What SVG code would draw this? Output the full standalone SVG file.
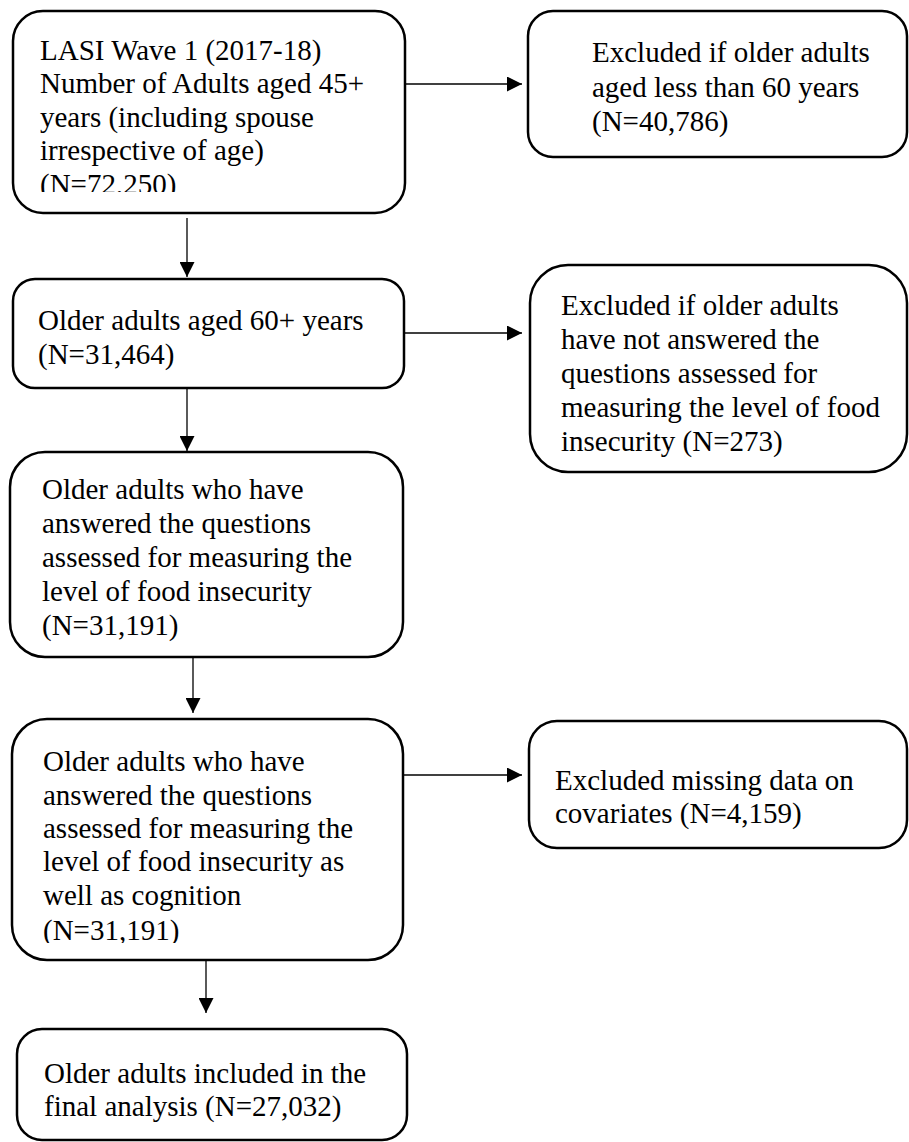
<svg xmlns="http://www.w3.org/2000/svg" width="909" height="1142" viewBox="0 0 909 1142">
<style>
.box{fill:#fff;stroke:#000;stroke-width:2.5}
.t{font-family:"Liberation Serif","Times New Roman",serif;font-size:29px;fill:#000}
.c{stroke:#000;stroke-width:1.3;fill:none}
</style>
<defs>
<marker id="ah" viewBox="0 0 15 15" refX="15" refY="7.5" markerWidth="15" markerHeight="15" markerUnits="userSpaceOnUse" orient="auto">
<path d="M0,0 L15,7.5 L0,15 Z" fill="#000"/>
</marker>
<clipPath id="clip1"><rect x="13" y="11" width="392" height="181"/></clipPath>
<clipPath id="clip6"><rect x="12" y="719" width="391" height="224"/></clipPath>
</defs>
<rect width="909" height="1142" fill="#fff"/>
<g id="connectors">
<line class="c" x1="405" y1="84" x2="522" y2="84" marker-end="url(#ah)"/>
<line class="c" x1="187" y1="218" x2="187" y2="277" marker-end="url(#ah)"/>
<line class="c" x1="404" y1="333" x2="522" y2="333" marker-end="url(#ah)"/>
<line class="c" x1="187" y1="388" x2="187" y2="451" marker-end="url(#ah)"/>
<line class="c" x1="193" y1="657" x2="193" y2="713" marker-end="url(#ah)"/>
<line class="c" x1="403" y1="775" x2="522" y2="775" marker-end="url(#ah)"/>
<line class="c" x1="206" y1="955" x2="206" y2="1013" marker-end="url(#ah)"/>
</g>
<g id="node1">
<rect class="box" x="13" y="11" width="392" height="202" rx="30"/>
<g clip-path="url(#clip1)">
<text class="t" x="40" y="59.5">LASI Wave 1 (2017-18)</text>
<text class="t" x="40" y="93">Number of Adults aged 45+</text>
<text class="t" x="40" y="126.5">years (including spouse</text>
<text class="t" x="40" y="160">irrespective of age)</text>
<text class="t" x="40" y="193.5">(N=72,250)</text>
</g>
</g>
<g id="node2">
<rect class="box" x="528" y="11" width="379" height="146" rx="25"/>
<text class="t" x="592" y="62">Excluded if older adults</text>
<text class="t" x="592" y="97">aged less than 60 years</text>
<text class="t" x="592" y="131">(N=40,786)</text>
</g>
<g id="node3">
<rect class="box" x="13" y="279" width="391" height="109" rx="22"/>
<text class="t" x="38" y="330">Older adults aged 60+ years</text>
<text class="t" x="38" y="364">(N=31,464)</text>
</g>
<g id="node4">
<rect class="box" x="530" y="265" width="377" height="207" rx="38"/>
<text class="t" x="561" y="315">Excluded if older adults</text>
<text class="t" x="561" y="349">have not answered the</text>
<text class="t" x="561" y="383">questions assessed for</text>
<text class="t" x="561" y="417">measuring the level of food</text>
<text class="t" x="561" y="451">insecurity (N=273)</text>
</g>
<g id="node5">
<rect class="box" x="10" y="452" width="393" height="205" rx="35"/>
<text class="t" x="42" y="499">Older adults who have</text>
<text class="t" x="42" y="533">answered the questions</text>
<text class="t" x="42" y="567">assessed for measuring the</text>
<text class="t" x="42" y="601">level of food insecurity</text>
<text class="t" x="42" y="635">(N=31,191)</text>
</g>
<g id="node6">
<rect class="box" x="12" y="719" width="391" height="241" rx="35"/>
<g clip-path="url(#clip6)">
<text class="t" x="43" y="771">Older adults who have</text>
<text class="t" x="43" y="805">answered the questions</text>
<text class="t" x="43" y="838">assessed for measuring the</text>
<text class="t" x="43" y="871">level of food insecurity as</text>
<text class="t" x="43" y="905">well as cognition</text>
<text class="t" x="43" y="940">(N=31,191)</text>
</g>
</g>
<g id="node7">
<rect class="box" x="529" y="721" width="378" height="127" rx="28"/>
<text class="t" x="555" y="790">Excluded missing data on</text>
<text class="t" x="555" y="823">covariates (N=4,159)</text>
</g>
<g id="node8">
<rect class="box" x="17" y="1029" width="390" height="111" rx="25"/>
<text class="t" x="44" y="1083">Older adults included in the</text>
<text class="t" x="44" y="1116">final analysis (N=27,032)</text>
</g>
</svg>
